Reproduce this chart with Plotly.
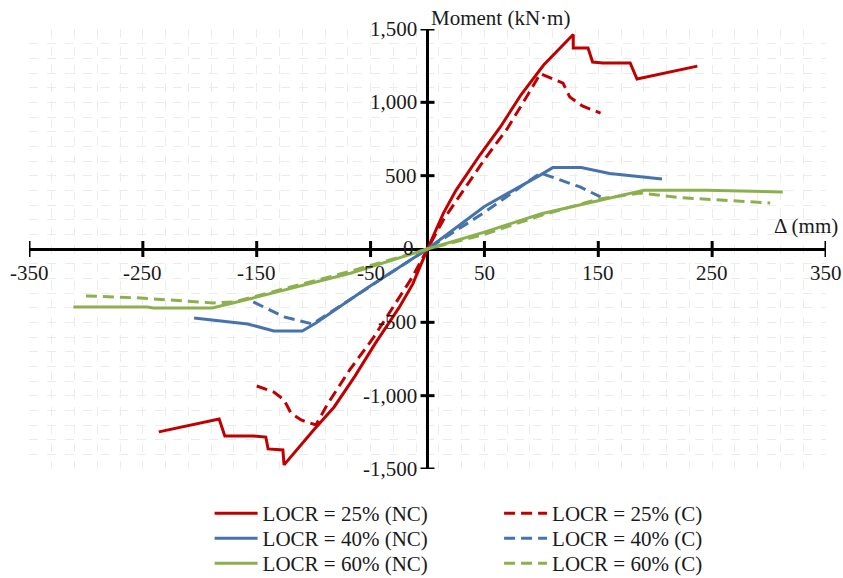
import plotly.graph_objects as go

# ---------------- data ----------------
x_ticks = [-350, -250, -150, -50, 50, 150, 250, 350]
x_tick_labels = ["-350", "-250", "-150", "-50", "50", "150", "250", "350"]
y_ticks = [-1500, -1000, -500, 500, 1000, 1500]
y_tick_labels = ["-1,500", "-1,000", "-500", "500", "1,000", "1,500"]

# LOCR = 25% (NC)
r_nc_x = [-236, -183, -178, -153, -142, -140, -127, -126, -100, -82, -64, -46, -25, -13, 0,
          14, 25, 46, 64, 82, 102, 128, 128, 141, 145, 154, 178, 184, 237]
r_nc_y = [-1247, -1159, -1275, -1275, -1282, -1363, -1370, -1472, -1234, -1077, -870, -645, -400, -240, 0,
          245, 400, 641, 832, 1050, 1254, 1462, 1370, 1370, 1275, 1268, 1268, 1159, 1247]
# LOCR = 25% (C)
r_c_x = [-150, -135, -126, -120, -111, -98, -88, -68, -48, -14, 0,
         14, 50, 70, 88, 99, 119, 125, 136, 152]
r_c_y = [-934, -975, -1029, -1118, -1166, -1200, -1060, -820, -610, -200, 0,
         200, 610, 820, 1050, 1195, 1131, 1036, 975, 927]
# LOCR = 40% (NC)
b_nc_x = [-205, -158, -135, -110, -98, -53, 0, 50, 99, 110, 135, 160, 206]
b_nc_y = [-470, -511, -559, -559, -504, -266, 0, 290, 504, 555, 555, 515, 477]
# LOCR = 40% (C)
b_c_x = [-153, -126, -101, -50, 0, 50, 99, 117, 134, 152]
b_c_y = [-361, -463, -511, -250, 0, 250, 518, 470, 423, 355]
# LOCR = 60% (NC)
g_nc_x = [-311, -246, -241, -189, -153, -67, 0, 50, 100, 152, 190, 245, 312]
g_nc_y = [-395, -395, -402, -402, -334, -164, 0, 115, 240, 334, 400, 400, 389]
# LOCR = 60% (C)
g_c_x = [-300, -252, -188, -170, -70, 0, 50, 100, 150, 175, 187, 222, 301]
g_c_y = [-320, -334, -368, -361, -157, 0, 100, 230, 340, 370, 382, 350, 314]

RED = "#C00000"
BLUE = "#4673AC"
GREEN = "#8CB04E"
FONT = "Liberation Serif"
FS = 21
TXT = "#1a1a1a"

series = [
    ("LOCR = 25% (NC)", r_nc_x, r_nc_y, RED, "solid"),
    ("LOCR = 25% (C)", r_c_x, r_c_y, RED, "11px,6px"),
    ("LOCR = 40% (NC)", b_nc_x, b_nc_y, BLUE, "solid"),
    ("LOCR = 40% (C)", b_c_x, b_c_y, BLUE, "11px,6px"),
    ("LOCR = 60% (NC)", g_nc_x, g_nc_y, GREEN, "solid"),
    ("LOCR = 60% (C)", g_c_x, g_c_y, GREEN, "11px,6px"),
]

# layout geometry (pixels in the 843x578 figure)
W, H = 843, 578
M_T, M_B = 29, 0
PLOT_BOTTOM = 469
paper_h = H - M_T - M_B
y_dom0 = (H - M_B - PLOT_BOTTOM) / paper_h
col_x = [0.2266, 0.5898]
row_py = [513, 538, 563]
LEG_OFF = 21  # distance from legend item centre to legend box bottom

fig = go.Figure()
legend_layout = {}
for i, (name, xs, ys, col, dash) in enumerate(series):
    lid = "legend" if i == 0 else f"legend{i + 1}"
    fig.add_trace(go.Scatter(x=xs, y=ys, mode="lines", name=name, legend=lid,
                             line=dict(color=col, width=3, dash=dash)))
    row, column = i // 2, i % 2
    ybot = (H - M_B - (row_py[row] + LEG_OFF)) / paper_h
    legend_layout[lid] = dict(x=col_x[column], xanchor="left", y=ybot, yanchor="bottom",
                              font=dict(family=FONT, size=FS, color=TXT),
                              itemwidth=43, bgcolor="rgba(0,0,0,0)", borderwidth=0)

shapes = []
for t in x_ticks:
    shapes.append(dict(type="line", xref="x", yref="y", x0=t, x1=t,
                       ysizemode="pixel", yanchor=0, y0=-8, y1=8,
                       line=dict(color="black", width=3)))
for t in y_ticks:
    shapes.append(dict(type="line", xref="x", yref="y", y0=t, y1=t,
                       xsizemode="pixel", xanchor=0, x0=-7, x1=7,
                       line=dict(color="black", width=3)))

annotations = []
for t, lab in zip(x_ticks, x_tick_labels):
    annotations.append(dict(x=t, y=0, xref="x", yref="y", text=lab, showarrow=False,
                            yshift=-24, font=dict(family=FONT, size=FS, color=TXT)))
for t, lab in zip(y_ticks, y_tick_labels):
    annotations.append(dict(x=0, y=t, xref="x", yref="y", text=lab, showarrow=False,
                            xanchor="right", xshift=-9, font=dict(family=FONT, size=FS, color=TXT)))
annotations.append(dict(x=0, y=0, xref="x", yref="y", text="0", showarrow=False,
                        xanchor="right", xshift=-12, yshift=1, font=dict(family=FONT, size=FS, color=TXT)))
annotations.append(dict(x=0, y=1500, xref="x", yref="y", text="Moment (kN·m)", showarrow=False,
                        xanchor="left", yanchor="bottom", xshift=1, yshift=-3,
                        font=dict(family=FONT, size=FS, color=TXT)))
annotations.append(dict(x=350, y=0, xref="x", yref="y", text="Δ (mm)", showarrow=False,
                        xanchor="right", yanchor="bottom", xshift=14, yshift=9,
                        font=dict(family=FONT, size=FS, color=TXT)))

fig.update_layout(
    width=W, height=H,
    margin=dict(l=29, r=17, t=M_T, b=M_B, autoexpand=False),
    paper_bgcolor="white", plot_bgcolor="white",
    font=dict(family=FONT, size=FS, color=TXT),
    shapes=shapes, annotations=annotations,
    showlegend=True,
    xaxis=dict(range=[-350, 350], tick0=-350, dtick=20, showgrid=True,
               gridcolor="#ececec", griddash="dash", gridwidth=1,
               zeroline=True, zerolinecolor="black", zerolinewidth=3,
               showticklabels=False, ticks="", showline=False),
    yaxis=dict(range=[-1500, 1500], tick0=-1500, dtick=100, showgrid=True,
               domain=[y_dom0, 1],
               gridcolor="#ececec", griddash="dash", gridwidth=1,
               zeroline=True, zerolinecolor="black", zerolinewidth=3,
               showticklabels=False, ticks="", showline=False),
    **legend_layout,
)

fig.write_html("out.html")
